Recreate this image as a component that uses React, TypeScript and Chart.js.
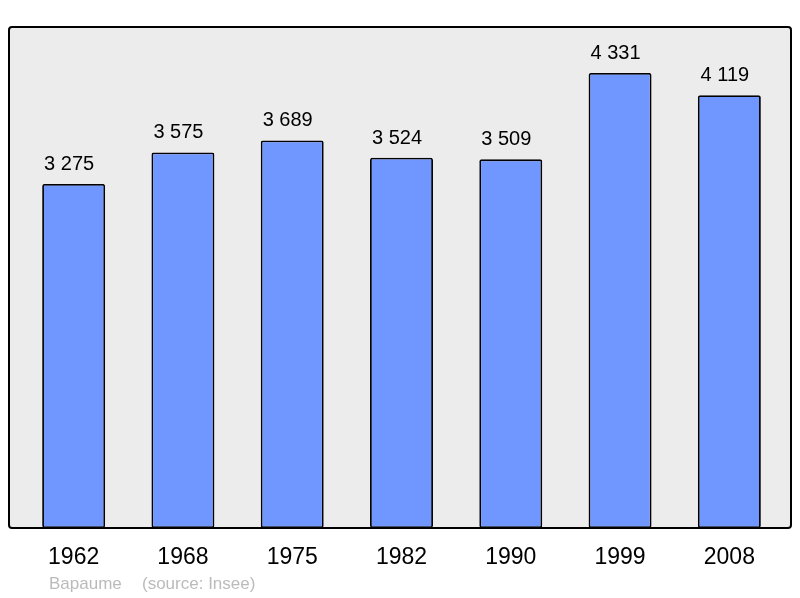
import React, { useEffect, useRef } from "react";
import { Chart, registerables } from "chart.js";

Chart.register(...registerables);

const years = ["1962", "1968", "1975", "1982", "1990", "1999", "2008"];
const population = [3275, 3575, 3689, 3524, 3509, 4331, 4119];
const yMax = 4769;
const footerName = "Bapaume";
const footerSource = "(source: Insee)";

const fmt = (v: number) => {
  const s = String(v);
  return s.replace(/\B(?=(\d{3})+(?!\d))/g, " ");
};

const boxPlugin = {
  id: "boxPlugin",
  beforeDraw(chart: any) {
    const { ctx, chartArea } = chart;
    const l = chartArea.left - 10;
    const r = chartArea.right + 7;
    const t = chartArea.top;
    const b = chartArea.bottom;
    ctx.save();
    ctx.beginPath();
    if (ctx.roundRect) ctx.roundRect(l, t, r - l, b - t, 3);
    else ctx.rect(l, t, r - l, b - t);
    ctx.fillStyle = "#ececec";
    ctx.fill();
    ctx.restore();
  },
  afterDatasetsDraw(chart: any) {
    const { ctx, chartArea } = chart;
    const l = chartArea.left - 10;
    const r = chartArea.right + 7;
    const t = chartArea.top;
    const b = chartArea.bottom;
    ctx.save();
    ctx.beginPath();
    if (ctx.roundRect) ctx.roundRect(l, t, r - l, b - t, 3);
    else ctx.rect(l, t, r - l, b - t);
    ctx.lineWidth = 2;
    ctx.strokeStyle = "#000";
    ctx.stroke();
    const meta = chart.getDatasetMeta(0);
    ctx.fillStyle = "#000";
    ctx.font = "20px 'Liberation Sans', Arial, sans-serif";
    ctx.textAlign = "center";
    ctx.textBaseline = "alphabetic";
    meta.data.forEach((el: any, i: number) => {
      ctx.fillText(fmt(population[i]), el.x - 4.5, el.y - 14);
    });
    ctx.restore();
  },
};

export default function App() {
  const ref = useRef<HTMLCanvasElement>(null);
  useEffect(() => {
    document.body.style.margin = "0";
    const chart = new Chart(ref.current!, {
      type: "bar",
      data: {
        labels: years,
        datasets: [
          {
            data: population,
            backgroundColor: "#7096ff",
            borderColor: "#000",
            borderWidth: 1.8,
            borderRadius: 2,
            borderSkipped: false,
            barPercentage: 0.576,
            categoryPercentage: 1,
          },
        ],
      },
      options: {
        animation: false,
        responsive: false,
        maintainAspectRatio: false,
        layout: { padding: { left: 19, right: 16, top: 27, bottom: 0 } },
        plugins: { legend: { display: false }, tooltip: { enabled: false } },
        scales: {
          x: {
            grid: { display: false, drawTicks: false },
            border: { display: false },
            ticks: {
              color: "#000",
              padding: 16,
              font: { family: "'Liberation Sans', Arial, sans-serif", size: 23 },
            },
            afterFit: (scale: any) => {
              scale.height = 70;
            },
          },
          y: {
            display: false,
            min: 0,
            max: yMax,
          },
        },
      },
      plugins: [boxPlugin],
    });
    return () => chart.destroy();
  }, []);
  return (
    <div style={{ position: "fixed", left: 0, top: 0, width: 800, height: 598 }}>
      <canvas ref={ref} width={800} height={598} style={{ display: "block" }} />
      <div
        style={{
          position: "absolute",
          left: 49,
          top: 574,
          fontFamily: "'Liberation Sans', Arial, sans-serif",
          fontSize: 17,
          color: "#bbbbbb",
          whiteSpace: "pre",
          lineHeight: "20px",
        }}
      >
        <span>{footerName}</span>
        <span style={{ position: "absolute", left: 93 }}>{footerSource}</span>
      </div>
    </div>
  );
}
